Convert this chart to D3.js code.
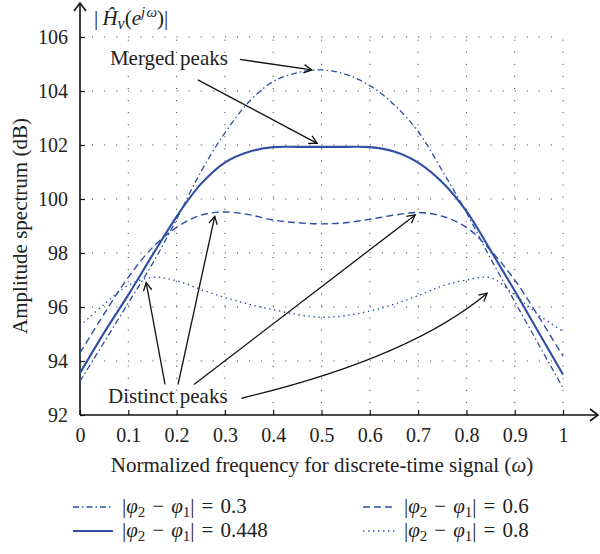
<!DOCTYPE html>
<html>
<head>
<meta charset="utf-8">
<script src="https://cdn.jsdelivr.net/npm/d3@7"></script>
<style>
  html, body { margin: 0; padding: 0; background: #fff; }
  svg { display: block; }
</style>
</head>
<body>
<svg id="chart" width="600" height="554"></svg>
<script>
// Normalized frequency samples (ω)
const omega = [0, 0.05, 0.1, 0.15, 0.2, 0.25, 0.3, 0.35, 0.4, 0.45, 0.5,
               0.55, 0.6, 0.65, 0.7, 0.75, 0.8, 0.85, 0.9, 0.95, 1];

// Amplitude spectrum (dB) for each phase difference |φ2 − φ1|
const ampPhi03   = [93.25, 94.7, 96.15, 97.6, 99.25, 101.0, 102.45, 103.6, 104.35, 104.68, 104.78,
                    104.62, 104.2, 103.5, 102.5, 101.05, 99.5, 97.8, 96.2, 94.6, 93.0];
const ampPhi0448 = [93.55, 95.05, 96.45, 97.92, 99.35, 100.55, 101.35, 101.75, 101.92, 101.93, 101.93,
                    101.93, 101.92, 101.76, 101.35, 100.62, 99.55, 98.1, 96.6, 95.05, 93.5];
const ampPhi06   = [94.3, 95.75, 97.1, 98.2, 98.95, 99.4, 99.52, 99.42, 99.22, 99.12, 99.08,
                    99.12, 99.25, 99.4, 99.5, 99.36, 98.95, 98.1, 97.0, 95.63, 94.18];
const ampPhi08   = [95.3, 96.1, 96.8, 97.1, 96.97, 96.65, 96.35, 96.1, 95.9, 95.72, 95.62,
                    95.68, 95.85, 96.1, 96.42, 96.78, 97.0, 97.08, 96.45, 95.7, 95.1];

const seriesLabels = ["0.3", "0.448", "0.6", "0.8"];
const seriesValues = [ampPhi03, ampPhi0448, ampPhi06, ampPhi08];

// Axis ticks
const xTicks = [0, 0.1, 0.2, 0.3, 0.4, 0.5, 0.6, 0.7, 0.8, 0.9, 1];
const xTickLabels = ["0", "0.1", "0.2", "0.3", "0.4", "0.5", "0.6", "0.7", "0.8", "0.9", "1"];
const yTicks = [92, 94, 96, 98, 100, 102, 104, 106];

// Annotations (in ω / dB units)
const mergedText = { text: "Merged peaks", w: 0.062, v: 104.96 };
const distinctText = { text: "Distinct peaks", w: 0.058, v: 92.44 };
const mergedArrows = [
  { from: [0.331, 105.17], to: [0.480, 104.78] },
  { from: [0.244, 104.41], to: [0.491, 102.06] }
];
const distinctArrows = [
  { from: [0.176, 93.13], to: [0.137, 96.9] },
  { from: [0.203, 93.13], to: [0.279, 99.36] },
  { from: [0.236, 93.13], to: [0.694, 99.41] },
  { from: [0.334, 92.62], to: [0.843, 96.51], ctrl: [0.683, 94.11] }
];

// ---------------------------------------------------------------
const svg = d3.select("#chart");
const blue = "#2e4fa3";
const FONT = '"Liberation Serif"';
const FS = 21;      // labels
const FS_TICK = 20; // tick numbers

const x = d3.scaleLinear().domain([0, 1]).range([80, 563]);
const y = d3.scaleLinear().domain([92, 106]).range([415, 37]);

const styles = [
  { dash: "6,3,1.5,3", width: 1.3 },   // 0.3   dash-dot
  { dash: null,        width: 2.1 },   // 0.448 solid
  { dash: "7,4",       width: 1.4 },   // 0.6   dashed
  { dash: "1.4,3.6",   width: 1.4 }    // 0.8   dotted
];

// Grid (dotted)
const grid = svg.append("g").attr("stroke", "#333").attr("stroke-width", 1)
  .attr("stroke-dasharray", "1,11.075");
grid.selectAll("line.h").data(yTicks.slice(1)).join("line")
  .attr("class", "h")
  .attr("x1", x(0)).attr("x2", x(1))
  .attr("y1", d => y(d)).attr("y2", d => y(d));
grid.selectAll("line.v").data(xTicks.slice(1)).join("line")
  .attr("class", "v")
  .attr("x1", d => x(d)).attr("x2", d => x(d))
  .attr("y1", y(92)).attr("y2", y(106));

// Axes with inward ticks
const xAxis = d3.axisBottom(x).tickValues(xTicks)
  .tickFormat((d, i) => xTickLabels[i]).tickSizeInner(-5).tickSizeOuter(0).tickPadding(13);
const gx = svg.append("g").attr("transform", `translate(0,${y(92)})`).call(xAxis);
const yAxis = d3.axisLeft(y).tickValues(yTicks)
  .tickFormat(d => String(d)).tickSizeInner(-5).tickSizeOuter(0).tickPadding(12);
const gy = svg.append("g").attr("transform", `translate(${x(0)},0)`).call(yAxis);
[gx, gy].forEach(g => {
  g.attr("font-family", null).attr("font-size", null);
  g.select(".domain").remove();
  g.selectAll(".tick line").attr("stroke", "#111").attr("stroke-width", 1.2);
  g.selectAll(".tick text").attr("font-size", FS_TICK).attr("fill", "#222");
});

// Axis lines with open arrowheads
const axisG = svg.append("g").attr("stroke", "#111").attr("stroke-width", 1.6).attr("fill", "none");
axisG.append("line").attr("x1", x(0)).attr("x2", 598).attr("y1", y(92)).attr("y2", y(92));
axisG.append("line").attr("x1", x(0)).attr("x2", x(0)).attr("y1", y(92)).attr("y2", 3);
axisG.append("path").attr("d", `M${598 - 8},${y(92) - 6} L598,${y(92)} L${598 - 8},${y(92) + 6}`);
axisG.append("path").attr("d", `M${x(0) - 6},11 L${x(0)},3 L${x(0) + 6},11`);

// Curves
const line = d3.line().x((d, i) => x(omega[i])).y(d => y(d)).curve(d3.curveCatmullRom.alpha(0.5));
svg.append("g").selectAll("path").data(seriesValues).join("path")
  .attr("d", d => line(d))
  .attr("fill", "none")
  .attr("stroke", blue)
  .attr("stroke-width", (d, i) => styles[i].width)
  .attr("stroke-dasharray", (d, i) => styles[i].dash)
  .attr("stroke-linejoin", "round");

// Annotation arrows
function chevron(tip, dir) {
  const len = 9, ang = 28 * Math.PI / 180;
  const a = Math.atan2(dir[1], dir[0]);
  const p1 = [tip[0] - len * Math.cos(a - ang), tip[1] - len * Math.sin(a - ang)];
  const p2 = [tip[0] - len * Math.cos(a + ang), tip[1] - len * Math.sin(a + ang)];
  return `M${p1[0]},${p1[1]} L${tip[0]},${tip[1]} L${p2[0]},${p2[1]}`;
}
const annG = svg.append("g").attr("stroke", "#111").attr("stroke-width", 1.3).attr("fill", "none");
mergedArrows.concat(distinctArrows).forEach(a => {
  const p0 = [x(a.from[0]), y(a.from[1])];
  const p1 = [x(a.to[0]), y(a.to[1])];
  let d, dir;
  if (a.ctrl) {
    const c = [x(a.ctrl[0]), y(a.ctrl[1])];
    d = `M${p0[0]},${p0[1]} Q${c[0]},${c[1]} ${p1[0]},${p1[1]}`;
    dir = [p1[0] - c[0], p1[1] - c[1]];
  } else {
    d = `M${p0[0]},${p0[1]} L${p1[0]},${p1[1]}`;
    dir = [p1[0] - p0[0], p1[1] - p0[1]];
  }
  annG.append("path").attr("d", d);
  annG.append("path").attr("d", chevron(p1, dir));
});
[mergedText, distinctText].forEach(t => {
  svg.append("text").attr("x", x(t.w)).attr("y", y(t.v))
    .attr("font-size", FS).text(t.text);
});

// Axis titles
const xTitle = svg.append("text").attr("x", 322).attr("y", 472).attr("text-anchor", "middle")
  .attr("font-size", FS);
xTitle.append("tspan").text("Normalized frequency for discrete-time signal (");
xTitle.append("tspan").attr("font-style", "italic").text("ω");
xTitle.append("tspan").text(")");

svg.append("text").attr("transform", "translate(27,226) rotate(-90)")
  .attr("text-anchor", "middle").attr("font-size", FS).text("Amplitude spectrum (dB)");

// Top label |Ĥ_v(e^{jω})|
const topLabel = svg.append("text").attr("x", 94).attr("y", 25).attr("font-size", FS);
topLabel.append("tspan").text("|\u2009");
topLabel.append("tspan").attr("font-style", "italic").text("Ĥ");
topLabel.append("tspan").attr("font-style", "italic").attr("font-size", 16).attr("dy", 4).text("v");
topLabel.append("tspan").attr("dy", -4).text("(");
topLabel.append("tspan").attr("font-style", "italic").text("e");
topLabel.append("tspan").attr("font-style", "italic").attr("font-size", 15).attr("dy", -8).text("j\u200Aω");
topLabel.append("tspan").attr("dy", 8).text(")|");

// Legend
const legendItems = [
  { i: 0, lx: 73, ly: 507, len: 40, tx: 122 },
  { i: 1, lx: 73, ly: 531, len: 40, tx: 122 },
  { i: 2, lx: 363, ly: 507, len: 33, tx: 404 },
  { i: 3, lx: 363, ly: 531, len: 33, tx: 404 }
];
legendItems.forEach(it => {
  svg.append("line").attr("x1", it.lx).attr("x2", it.lx + it.len)
    .attr("y1", it.ly).attr("y2", it.ly)
    .attr("stroke", blue).attr("stroke-width", styles[it.i].width)
    .attr("stroke-dasharray", styles[it.i].dash);
  const t = svg.append("text").attr("x", it.tx).attr("y", it.ly + 6).attr("font-size", FS);
  t.append("tspan").text("|");
  t.append("tspan").attr("font-style", "italic").text("φ");
  t.append("tspan").attr("font-size", 15).attr("dy", 4).text("2");
  t.append("tspan").attr("dy", -4).text(" \u200A−\u200A ");
  t.append("tspan").attr("font-style", "italic").text("φ");
  t.append("tspan").attr("font-size", 15).attr("dy", 4).text("1");
  t.append("tspan").attr("dy", -4).text("| \u200A=\u200A " + seriesLabels[it.i]);
});

// Serif face for every label and its parts
svg.selectAll("text, tspan").style("font-family", FONT).style("fill", "#222");
</script>
</body>
</html>
